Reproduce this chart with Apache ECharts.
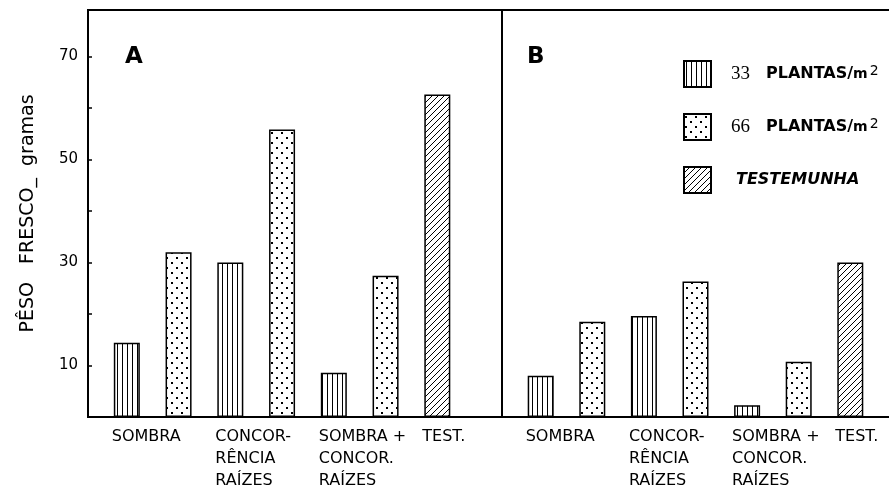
<!DOCTYPE html>
<html>
<head>
<meta charset="utf-8">
<script src="https://cdn.jsdelivr.net/npm/echarts@6/dist/echarts.min.js"></script>
<style>
  html, body { margin: 0; padding: 0; background: #fff; }
  #chart { width: 889px; height: 488px; }
</style>
</head>
<body>
<div id="chart"></div>
<script>
// categorias (grupos do eixo x)
var groupLabels = ['SOMBRA', 'CONCOR-\nRÊNCIA\nRAÍZES', 'SOMBRA +\nCONCOR.\nRAÍZES', 'TEST.'];
// painel A
var plantas33A = [14.4, 30, 8.6];
var plantas66A = [32, 55.8, 27.4];
var testemunhaA = 62.6;
// painel B
var plantas33B = [8, 19.6, 2.3];
var plantas66B = [18.5, 26.3, 10.7];
var testemunhaB = 30;
// eixo y
var yTickLabels = [10, 30, 50, 70];
var seriesNames = ['33 PLANTAS/m2', '66 PLANTAS/m2', 'TESTEMUNHA'];

var FONT = 'DejaVu Sans';

// each bar sits on its own slot: 33 -> 1,5,9 ; 66 -> 3,7,11 ; test -> 13
function slotData(n, v33, v66, test) {
  var a = [], b = [], c = [];
  for (var i = 0; i < n; i++) { a.push(null); b.push(null); c.push(null); }
  for (var g = 0; g < v33.length; g++) {
    a[1 + 4 * g] = v33[g];
    b[3 + 4 * g] = v66[g];
  }
  c[13] = test;
  return [a, b, c];
}

function slotNames(n) {
  var r = [];
  for (var i = 0; i < n; i++) r.push(String(i));
  return r;
}
var slotLabel = {};
for (var g = 0; g < groupLabels.length; g++) slotLabel[String(1 + 4 * g)] = groupLabels[g];

// padrões de preenchimento
function makeCanvas(w, h) {
  var cv = document.createElement('canvas');
  cv.width = w; cv.height = h;
  var ctx = cv.getContext('2d');
  ctx.fillStyle = '#fff';
  ctx.fillRect(0, 0, w, h);
  ctx.fillStyle = '#000';
  ctx.strokeStyle = '#000';
  return [cv, ctx];
}
function stripes() {
  var r = makeCanvas(5, 8);
  r[1].fillRect(2, 0, 1, 8);
  return r[0];
}
function dots() {
  var r = makeCanvas(10, 10);
  r[1].fillRect(1, 2, 2, 2);
  r[1].fillRect(6, 7, 2, 2);
  return r[0];
}
function hatch() {
  var r = makeCanvas(6, 6), ctx = r[1];
  ctx.lineWidth = 1;
  ctx.beginPath();
  ctx.moveTo(-1, 7); ctx.lineTo(7, -1);
  ctx.moveTo(-4, 4); ctx.lineTo(4, -4);
  ctx.moveTo(2, 10); ctx.lineTo(10, 2);
  ctx.stroke();
  return r[0];
}
var fills = [
  { image: stripes(), repeat: 'repeat' },
  { image: dots(), repeat: 'repeat' },
  { image: hatch(), repeat: 'repeat' }
];

var SLOTS_A = 16, SLOTS_B = 15;
var dataA = slotData(SLOTS_A, plantas33A, plantas66A, testemunhaA);
var dataB = slotData(SLOTS_B, plantas33B, plantas66B, testemunhaB);

function xAxisFor(idx, n, lineShow) {
  return {
    type: 'category',
    gridIndex: idx,
    data: slotNames(n),
    axisLine: { show: lineShow, lineStyle: { color: '#000', width: 2 } },
    axisTick: { show: false },
    axisLabel: {
      interval: 0,
      align: 'left',
      padding: [0, 0, 0, -15],
      margin: 9,
      color: '#000',
      fontFamily: FONT,
      fontSize: 16,
      lineHeight: 22,
      formatter: function (v) { return slotLabel[v] || ''; }
    }
  };
}

function yAxisFor(idx, show) {
  return {
    type: 'value',
    gridIndex: idx,
    min: 0,
    max: 79,
    interval: 10,
    show: show,
    name: show ? 'PÊSO   FRESCO_  gramas' : '',
    nameLocation: 'middle',
    nameGap: 50,
    nameTextStyle: { color: '#000', fontFamily: FONT, fontSize: 19 },
    axisLine: { show: false },
    axisTick: { show: true, inside: true, length: 4, lineStyle: { color: '#000', width: 1.5 } },
    splitLine: { show: false },
    axisLabel: {
      color: '#000',
      fontFamily: FONT,
      fontSize: 15,
      margin: 10,
      formatter: function (v) { return yTickLabels.indexOf(v) >= 0 ? String(v) : ''; }
    }
  };
}

var series = [];
[dataA, dataB].forEach(function (d, p) {
  for (var s = 0; s < 3; s++) {
    series.push({
      name: seriesNames[s],
      type: 'bar',
      xAxisIndex: p,
      yAxisIndex: p,
      data: d[s],
      barWidth: 26,
      barGap: '-100%',
      itemStyle: { color: fills[s], borderColor: '#000', borderWidth: 1.5 }
    });
  }
});

// linha superior do painel B
var topLineB = {
  type: 'category',
  gridIndex: 1,
  position: 'top',
  data: slotNames(SLOTS_B),
  axisLine: { show: true, lineStyle: { color: '#000', width: 2 } },
  axisTick: { show: false },
  axisLabel: { show: false }
};

var chart = echarts.init(document.getElementById('chart'));
chart.setOption({
  backgroundColor: '#fff',
  animation: false,
  title: [
    { text: 'A', left: 125, top: 46, padding: 0, textStyle: { fontFamily: FONT, fontSize: 23, fontWeight: 'bold', color: '#000' } },
    { text: 'B', left: 527, top: 46, padding: 0, textStyle: { fontFamily: FONT, fontSize: 23, fontWeight: 'bold', color: '#000' } }
  ],
  legend: {
    orient: 'vertical',
    left: 683,
    top: 60,
    padding: 0,
    itemWidth: 27,
    itemHeight: 26,
    itemGap: 25,
    icon: 'rect',
    data: seriesNames,
    formatter: function (name) {
      if (name === 'TESTEMUNHA') return '{t|TESTEMUNHA}';
      return '{n|' + name.slice(0, 2) + '}{p|PLANTAS/}{m|m}{s|2}';
    },
    textStyle: {
      padding: [0, 0, 0, 15],
      rich: {
        n: { fontFamily: 'Liberation Serif', fontSize: 19, color: '#000' },
        p: { fontFamily: FONT, fontSize: 16, fontWeight: 'bold', color: '#000', padding: [0, 0, 0, 16] },
        m: { fontFamily: FONT, fontSize: 14, fontWeight: 'bold', color: '#000' },
        s: { fontFamily: FONT, fontSize: 14, color: '#000', verticalAlign: 'top', padding: [0, 0, 6, 2] },
        t: { fontFamily: FONT, fontSize: 16, fontStyle: 'italic', fontWeight: 'bold', color: '#000', padding: [0, 0, 0, 5] }
      }
    }
  },
  grid: [
    { left: 88, top: 10, width: 414, height: 407, outerBoundsMode: 'none', containLabel: false, show: true, borderColor: '#000', borderWidth: 2, backgroundColor: 'transparent' },
    { left: 502, top: 10, width: 387, height: 407, outerBoundsMode: 'none', containLabel: false, show: false }
  ],
  xAxis: [xAxisFor(0, SLOTS_A, false), xAxisFor(1, SLOTS_B, true), topLineB],
  yAxis: [yAxisFor(0, true), yAxisFor(1, false)],
  series: series
});
</script>
</body>
</html>
